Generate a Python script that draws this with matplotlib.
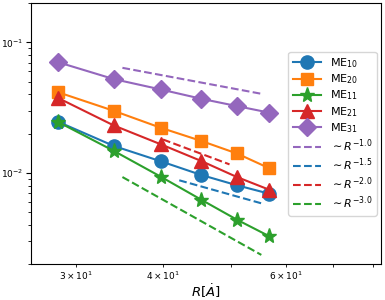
import numpy as np
import matplotlib
matplotlib.use("Agg")
import matplotlib.pyplot as plt

# distances R (Angstrom)
R = np.array([28.35, 34.02, 39.69, 45.36, 51.03, 56.70])

# matrix elements per state
me10 = [0.0246, 0.0161, 0.0123, 0.00966, 0.00805, 0.00695]
me20 = [0.0414, 0.0299, 0.0222, 0.0176, 0.0141, 0.0109]
me11 = [0.0245, 0.01476, 0.00938, 0.00625, 0.00439, 0.00329]
me21 = [0.0374, 0.0231, 0.0166, 0.01236, 0.00931, 0.00746]
me31 = [0.0703, 0.0523, 0.0436, 0.0370, 0.0325, 0.0290]

series = [
    ("ME$_{10}$", me10, "#1f77b4", "o"),
    ("ME$_{20}$", me20, "#ff7f0e", "s"),
    ("ME$_{11}$", me11, "#2ca02c", "*"),
    ("ME$_{21}$", me21, "#d62728", "^"),
    ("ME$_{31}$", me31, "#9467bd", "D"),
]

# power-law guides: exponent, R start, R end, value at start
guides = [
    (-1.0, 35.0, 55.3, 0.0638, "#9467bd"),
    (-1.5, 42.2, 55.3, 0.00879, "#1f77b4"),
    (-2.0, 40.0, 49.8, 0.01804, "#d62728"),
    (-3.0, 35.0, 55.3, 0.00931, "#2ca02c"),
]

fig = plt.figure(figsize=(3.85, 3.0), dpi=100)
ax = fig.add_axes([0.0805, 0.119, 0.909, 0.871])

msize = {"o": 9.5, "s": 9, "*": 11, "^": 9.5, "D": 9}
for label, vals, col, mk in series:
    ax.plot(R, vals, marker=mk, color=col, label=label, lw=1.5, ms=msize[mk])

for p, r0, r1, y0, col in guides:
    rr = np.array([r0, r1])
    ax.plot(rr, y0 * (rr / r0) ** p, "--", color=col, lw=1.5,
            label=r"$\sim R^{%.1f}$" % p)

ax.set_xscale("log")
ax.set_yscale("log")
ax.set_xlim(25.9, 82.0)
ax.set_ylim(0.002, 0.2)
ax.tick_params(axis="both", which="both", labelsize=6.5, pad=1.8)
ax.set_xlabel(r"$R[\dot{A}]$", fontsize=9.5)
ax.xaxis.set_label_coords(0.5, -0.068)

ax.legend(loc="center right", fontsize=8, labelspacing=0.22,
          handlelength=2.5, borderaxespad=0.4)

fig.savefig("out.png", dpi=100)
